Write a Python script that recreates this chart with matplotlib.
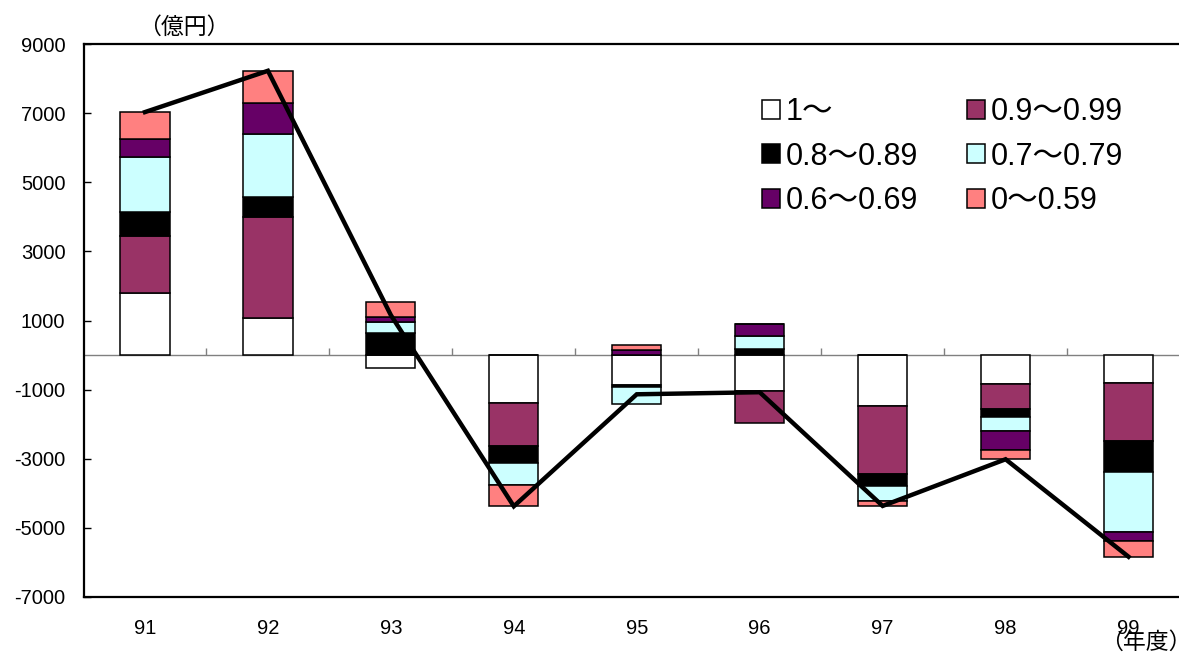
import numpy as np
import matplotlib
matplotlib.use("Agg")
import matplotlib.pyplot as plt
from matplotlib.patches import Patch

plt.rcParams['font.family'] = ['Liberation Sans', 'Noto Sans CJK JP']
plt.rcParams['axes.unicode_minus'] = False

# 年度別・区分別の増減額（億円）
years = ['91', '92', '93', '94', '95', '96', '97', '98', '99']
series_names = ['1～', '0.9～0.99', '0.8～0.89', '0.7～0.79', '0.6～0.69', '0～0.59']
s_1 = [1810, 1080, -370, -1380, -860, -1050, -1480, -840, -800]
s_090 = [1630, 2905, 0, -1245, 0, -925, -1975, -725, -1680]
s_080 = [700, 580, 630, -510, -60, 175, -330, -225, -895]
s_070 = [1590, 1825, 335, -630, -510, 385, -430, -405, -1735]
s_060 = [510, 915, 140, 0, 155, 340, 0, -560, -270]
s_000 = [790, 920, 420, -610, 140, 0, -150, -260, -455]
colors = ['#FFFFFF', '#993366', '#000000', '#CCFFFF', '#660066', '#FF8080']

series = np.array([s_1, s_090, s_080, s_070, s_060, s_000], dtype=float)
totals = series.sum(axis=0)
x = np.arange(len(years))

W, H = 1179, 655
fig = plt.figure(figsize=(W / 100, H / 100), dpi=100)
ax = fig.add_axes([83.5 / W, (H - 597) / H, (1190 - 83.5) / W, 553 / H])

# 正負を分けて積み上げ
pos_base = np.zeros(len(years))
neg_base = np.zeros(len(years))
for vals, col in zip(series, colors):
    base = np.where(vals >= 0, pos_base, neg_base)
    ax.bar(x, vals, 0.4, bottom=base, color=col, edgecolor='black',
           linewidth=1.1, zorder=3)
    pos_base += np.where(vals >= 0, vals, 0)
    neg_base += np.where(vals < 0, vals, 0)

ax.plot(x, totals, color='black', lw=3.2, zorder=4, solid_joinstyle='miter')

# ゼロ線と区切り目盛
ax.axhline(0, color='#808080', lw=1.0, zorder=2)
ax.vlines(np.arange(0.5, len(years) - 0.5), 0, 200, color='#808080', lw=1.0, zorder=2)

ax.set_xlim(-0.5, len(years) - 0.5)
ax.set_ylim(-7000, 9000)
ax.set_yticks(np.arange(-7000, 9001, 2000))
ax.tick_params(axis='y', direction='in', length=5, width=1.0, labelsize=14.5, pad=13)
ax.set_xticks(x)
ax.set_xticklabels(years)
ax.tick_params(axis='x', length=0, labelsize=14.5, pad=16)
for side in ['left', 'bottom', 'top', 'right']:
    ax.spines[side].set_linewidth(1.6)

# 凡例（2列・行順）
handles = [Patch(facecolor=c, edgecolor='black', linewidth=1.1) for c in colors]
order = [0, 2, 4, 1, 3, 5]
ax.legend([handles[i] for i in order], [series_names[i] for i in order],
          ncol=2, frameon=False, fontsize=22, loc='upper left',
          bbox_to_anchor=(762 / W, 1 - 97 / H), bbox_transform=fig.transFigure,
          handlelength=0.58, handleheight=0.58, handletextpad=0.2,
          labelspacing=0.48, columnspacing=1.6, borderpad=0, borderaxespad=0)

cjk = ['Noto Sans CJK JP']
fig.text(184 / W, 1 - 27 / H, '（億円）', fontsize=16.5, family=cjk, ha='center', va='center')
fig.text(1100 / W, 1 - 642 / H, '（年度）', fontsize=16.5, family=cjk, ha='left', va='center')

fig.savefig('out.png', dpi=100)
